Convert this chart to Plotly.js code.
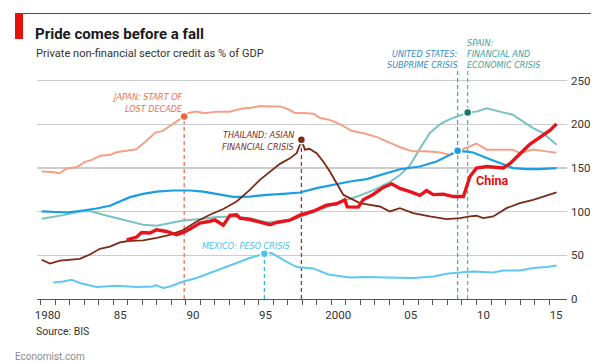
<!DOCTYPE html>
<html><head><meta charset="utf-8">
<script src="https://cdn.plot.ly/plotly-3.0.1.min.js"></script>
<style>html,body{margin:0;padding:0;background:#fff}#chart{width:606px;height:363px}</style>
</head><body><div id="chart"></div>
<script>
// ---- data (private non-financial sector credit, % of GDP) ----
const japanYear=[1980.07,1980.8,1981.3,1981.8,1982.5,1983.05,1983.5,1984.1,1984.8,1985.2,1985.8,1986.6,1987.2,1987.9,1988.4,1989.0,1989.7,1989.88,1990.16,1990.7,1991.3,1992.1,1993.0,1993.9,1994.5,1995.1,1995.8,1996.5,1997.0,1997.5,1998.1,1998.8,1999.2,1999.9,2000.7,2001.4,2002.3,2003.2,2004.0,2004.8,2005.6,2006.5,2007.5,2008.2,2008.7,2009.55,2010.0,2010.7,2011.6,2012.5,2013.0,2013.9,2014.8,2015.5];
const japanCredit=[146,145.5,144,149.5,151,157,159,164,165,168,169.5,171.5,180,190.5,192.5,199,207,209,213,214.5,212.7,214.5,214.5,218,219,221,220.5,220.5,217.5,213,213,212,207.5,205,199.3,192.5,189.5,185,179,173.5,169,169,167.7,165,169,174.5,178,171,171,171,167,171,169,167.5];

const usYear=[1980.07,1980.87,1981.8,1982.9,1983.85,1984.77,1985.46,1986.15,1987.06,1987.98,1989.13,1990.28,1991.19,1992.11,1993.26,1994.4,1995.55,1996.7,1997.85,1999.0,2000.14,2001.29,2002.44,2003.5,2004.73,2006.1,2007.25,2008.17,2008.7,2009.32,2009.77,2010.7,2011.6,2012.53,2013.45,2014.36,2015.51];
const usCredit=[100.2,100,99,101.3,103.6,106.7,111.6,116.6,120.4,123,124.2,124.2,123,120,117,117.3,119.3,120.4,121.9,126.9,130.7,134.5,137.2,142.5,148.5,151.7,157.4,165,169.6,168.8,167.7,161.3,155.5,149.8,148.7,148.7,149.8];

const spainYear=[1980.07,1980.87,1981.56,1982.7,1983.39,1984.31,1985.23,1986.15,1987.06,1987.98,1988.9,1989.81,1991.19,1992.11,1993.26,1994.4,1995.55,1996.24,1997.38,1998.53,1999.68,2000.83,2001.98,2003.12,2004.04,2004.73,2005.42,2006.1,2006.79,2007.48,2008.17,2008.86,2009.38,2010.0,2010.7,2011.6,2012.53,2013.21,2013.9,2014.59,2015.51];
const spainCredit=[91.8,93.8,96,100.2,100.7,96.4,92.6,88.7,85,83.8,86.5,89.9,92,93.8,94.5,92.5,88,88.7,91,98.4,105,112,118.5,126,134,142,153,172,190,200,206,210,213.4,214.5,218.4,214.5,210.8,203.1,195.6,189.8,176.5];

const thaiYear=[1980.07,1980.64,1981.33,1982.02,1982.7,1983.39,1984.08,1984.77,1985.46,1986.15,1987.06,1987.98,1988.9,1989.81,1990.74,1991.65,1992.57,1993.49,1994.4,1995.09,1995.78,1996.47,1997.16,1997.62,1997.85,1997.95,1998.19,1998.5,1999.0,1999.45,1999.91,2000.37,2000.83,2001.29,2001.98,2002.66,2003.35,2004.04,2004.73,2005.64,2006.79,2007.94,2008.86,2009.55,2010.0,2010.46,2011.15,2012.07,2012.98,2013.9,2014.82,2015.51];
const thaiCredit=[45,40.5,44,45,46,51,57.5,60,64.7,66.7,67,70,73.5,79,88.7,96.4,103,111.6,125,136.4,146,154.7,161,167,176.5,182.2,171,172,167,157.4,146,132.7,119.3,115.5,109.8,107.8,105.9,100.2,104,98.4,94.5,91.5,92.6,94.5,95.3,92.6,94.5,104,109.8,113.6,118,122];

const mexicoYear=[1980.87,1981.56,1982.13,1982.7,1983.85,1985.23,1986.61,1987.75,1987.9,1988.44,1988.9,1989.81,1990.74,1991.65,1992.57,1993.49,1994.4,1995.4,1995.9,1996.7,1997.62,1998.76,1999.8,2001.29,2002.44,2003.81,2005.64,2007.02,2007.94,2008.86,2009.77,2011.15,2011.84,2012.98,2013.9,2014.82,2015.51];
const mexicoCredit=[19,20.1,22.1,18.3,13.7,15.2,13.7,14.4,16,12.6,14.4,20.1,24,29.7,35.5,41.2,46.9,51.8,52.6,44.9,36.6,35,28,24.7,25.2,24.7,24,25.8,28.9,30.4,31.6,30.4,32.7,32.7,35.5,36.6,38.4];

const chinaYear=[1985.92,1986.61,1986.95,1987.52,1987.98,1988.67,1989.36,1989.81,1990.28,1990.96,1991.65,1992.0,1992.57,1993.03,1993.49,1993.72,1994.4,1995.32,1995.78,1996.24,1997.16,1997.85,1998.76,1999.68,2000.37,2000.94,2001.1,2001.86,2002.2,2002.89,2003.58,2004.16,2004.73,2005.42,2006.1,2006.57,2007.02,2007.71,2008.4,2009.1,2009.3,2009.55,2010.0,2010.7,2011.84,2012.3,2012.98,2013.67,2014.36,2015.05,2015.51];
const chinaCredit=[67.8,70.9,76.2,75.5,79.3,77.3,73.5,76.2,80.1,86.9,89,90.5,84.5,95.8,96.4,92.6,91,87,85,87.6,90.3,96,100.5,107.5,109,113.6,105.5,105.2,113.6,119.7,127.7,131.9,126.5,123,118.7,124.2,119.5,120.1,117.3,117.3,128,140.2,149.8,151.7,150,155,166,177,185,193,200.5];

// crises: Japan, Thailand, Mexico, United States, Spain
const crisisYear=[1989.88,1997.95,1995.4,2008.7,2009.39];
const crisisLevel=[209,182.2,51.8,169.6,213.4];
const crisisLineTop=[209,182.2,51.8,265,265];

const xTickVals=[1980,1981,1982,1983,1984,1985,1986,1987,1988,1989,1990,1991,1992,1993,1994,1995,1996,1997,1998,1999,2000,2001,2002,2003,2004,2005,2006,2007,2008,2009,2010,2011,2012,2013,2014,2015];
const xTickText=['1980','','','','','85','','','','','90','','','','','95','','','','','2000','','','','','05','','','','','10','','','','','15'];
const yTickVals=[0,50,100,150,200,250];

// ---- styling ----
const C={japan:'#f3a087',us:'#1a9ee2',spain:'#77c3c1',thai:'#7b2a17',mexico:'#5fc7f0',china:'#e8131b'};
const dashCol=['#f0704f','#8a3b2a','#3db5ea','#3aa8de','#55b8b3'];
const dotCol=['#ef6440','#7b2a16','#4fc3f0','#1a9ee2','#0e7a6a'];

const L=37,R=39,T=40,B=64,W=606,H=363;
const pw=W-L-R, ph=H-T-B;
const px=x=>(x-L)/pw, py=y=>(H-B-y)/ph;

const traces=[];
for(let i=0;i<crisisYear.length;i++){
  traces.push({x:[crisisYear[i],crisisYear[i]],y:[0,crisisLineTop[i]],mode:'lines',
    line:{color:dashCol[i],width:1.3,dash:'4px,3px'},hoverinfo:'skip',showlegend:false});
}
function series(x,y,c,w){return {x:x,y:y,mode:'lines',line:{color:c,width:w,shape:'linear'},hoverinfo:'skip',showlegend:false};}
traces.push(series(spainYear,spainCredit,C.spain,2));
traces.push(series(japanYear,japanCredit,C.japan,2));
traces.push(series(mexicoYear,mexicoCredit,C.mexico,2));
traces.push(series(usYear,usCredit,C.us,2.2));
traces.push(series(thaiYear,thaiCredit,C.thai,1.8));
traces.push(series(chinaYear,chinaCredit,C.china,3.4));
traces.push({x:crisisYear,y:crisisLevel,mode:'markers',marker:{color:dotCol,size:8,line:{color:'#fff',width:1.5}},hoverinfo:'skip',showlegend:false});

const af="'Liberation Sans Narrow','DejaVu Sans Condensed','Roboto',sans-serif";
function lab(text,x,y,anchor,color){
  return {text:'<i>'+text+'</i>',xref:'paper',yref:'paper',x:px(x),y:py(y),xanchor:anchor,yanchor:'middle',
    showarrow:false,font:{family:af,size:9,color:color},borderpad:0};
}
const ann=[
  {text:'Private non-financial sector credit as % of GDP',xref:'paper',yref:'paper',x:px(35),y:py(53.5),xanchor:'left',yanchor:'middle',showarrow:false,font:{family:'Roboto',size:11.1,color:'#333'},borderpad:0},
  {text:'Source: BIS',xref:'paper',yref:'paper',x:px(35),y:py(331.5),xanchor:'left',yanchor:'middle',showarrow:false,font:{family:'Roboto',size:10.5,color:'#333'},borderpad:0},
  {text:'Economist.com',xref:'paper',yref:'paper',x:px(14),y:py(356.5),xanchor:'left',yanchor:'middle',showarrow:false,font:{family:'Roboto',size:10,color:'#8c8c8c'},borderpad:0},
  lab('JAPAN: START OF',183.5,97,'right','#ee6c4d'),
  lab('LOST DECADE',183.5,109.2,'right','#ee6c4d'),
  lab('THAILAND: ASIAN',295,135.3,'right','#7b2b1b'),
  lab('FINANCIAL CRISIS',295,146.7,'right','#7b2b1b'),
  lab('MEXICO: PESO CRISIS',246,245.7,'center','#4cbfef'),
  lab('UNITED STATES:',459,54.3,'right','#2f8cc4'),
  lab('SUBPRIME CRISIS',459,64.7,'right','#2f8cc4'),
  lab('SPAIN:',466,43.3,'left','#3aa39c'),
  lab('FINANCIAL AND',466,54.3,'left','#3aa39c'),
  lab('ECONOMIC CRISIS',466,64.7,'left','#3aa39c'),
  {text:'<b>China</b>',xref:'paper',yref:'paper',x:px(474.5),y:py(180.5),xanchor:'left',yanchor:'middle',showarrow:false,font:{family:'Roboto',size:12.5,color:'#e3120b'},borderpad:0}
];

const layout={
  width:W,height:H,margin:{l:L,r:R,t:T,b:B,pad:0},
  paper_bgcolor:'#fff',plot_bgcolor:'rgba(0,0,0,0)',
  title:{text:'<b>Pride comes before a fall</b>',font:{family:'Roboto',size:15,color:'#1a1a1a'},
    xref:'container',yref:'container',x:35/W,xanchor:'left',y:1-34/H,yanchor:'middle'},
  xaxis:{range:[1979.75,2016.23],tickmode:'array',tickvals:xTickVals,ticktext:xTickText,
    ticks:'outside',ticklen:5,tickwidth:1,tickcolor:'#555',showline:true,linecolor:'#555',linewidth:1,
    showgrid:false,zeroline:false,ticklabelshift:7,tickfont:{family:'Roboto',size:11.5,color:'#333'},fixedrange:true},
  yaxis:{range:[0,296.5],side:'right',tickmode:'array',tickvals:yTickVals,ticks:'',showline:false,
    showgrid:true,gridcolor:'#cccccc',gridwidth:1.2,zeroline:false,tickfont:{family:'Roboto',size:11.5,color:'#333'},
    ticklabelstandoff:3,fixedrange:true},
  shapes:[
    {type:'rect',xref:'paper',yref:'paper',x0:px(15),x1:px(23),y0:py(39),y1:py(13),fillcolor:'#e3120b',line:{width:0}},
    {type:'line',xref:'paper',yref:'paper',x0:px(15),x1:px(591),y0:py(13.5),y1:py(13.5),line:{color:'#e3120b',width:1}}
  ],
  annotations:ann
};
Plotly.newPlot('chart',traces,layout,{staticPlot:true,displayModeBar:false});
</script></body></html>
